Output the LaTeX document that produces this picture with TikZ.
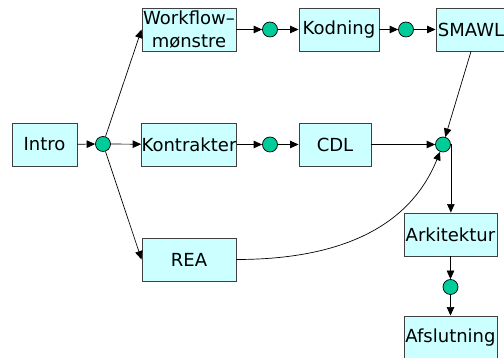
\documentclass[tikz,border=0pt]{standalone}
\usepackage{fontspec}
\setmainfont{DejaVu Sans}
\usetikzlibrary{arrows.meta}
\definecolor{boxfill}{HTML}{CCFFFF}
\definecolor{boxline}{HTML}{404040}
\definecolor{dotfill}{HTML}{00CC99}
\tikzset{
  topic/.style={draw=boxline, line width=0.9pt, fill=boxfill, inner sep=0pt,
    minimum height=43pt, align=center, text=black,
    font=\fontsize{18}{23}\selectfont},
  junction/.style={circle, draw=black, line width=0.7pt, fill=dotfill,
    minimum size=15pt, inner sep=0pt},
  flow/.style={draw=black, line width=0.7pt, -{Triangle[length=8.5pt,width=7.5pt]}},
}
\begin{document}
\begin{tikzpicture}[x=1pt,y=1pt]
  \useasboundingbox (0,0) rectangle (504,358);
  \clip (0,0) rectangle (504,358);

  % topics
  \node[topic, minimum width=65pt] (intro) at (44.5,213.5) {Intro};
  \node[topic, minimum width=94pt] (wf)    at (189,328.5) {Workflow–\\mønstre};
  \node[topic, minimum width=94pt] (kon)   at (189,213.5) {Kontrakter};
  \node[topic, minimum width=94pt] (rea)   at (189,98.5)  {REA};
  \node[topic, minimum width=80pt] (kod)   at (339,328.5) {Kodning};
  \node[topic, minimum width=72pt] (cdl)   at (335,213.5) {CDL};
  \node[topic, minimum width=70pt] (smawl) at (471,328.5) {SMAWL};
  \node[topic, minimum width=93pt] (ark)   at (450.5,123.5) {Arkitektur};
  \node[topic, minimum width=93pt] (afs)   at (450.5,20.5)  {Afslutning};

  % junctions
  \node[junction] (c1)    at (103,214) {};
  \node[junction] (c2)    at (270,328.5) {};
  \node[junction] (c3)    at (406,328.5) {};
  \node[junction] (c4)    at (270,213.5) {};
  \node[junction] (merge) at (443,213.5) {};
  \node[junction] (c5)    at (450.5,71) {};

  % connectors
  \draw[flow] (intro) -- (c1);
  \draw[flow] (c1) -- (wf.west);
  \draw[flow] (c1) -- (kon);
  \draw[flow] (c1) -- (rea.west);
  \draw[flow] (wf) -- (c2);
  \draw[flow] (c2) -- (kod);
  \draw[flow] (kod) -- (c3);
  \draw[flow] (c3) -- (smawl);
  \draw[flow] (kon) -- (c4);
  \draw[flow] (c4) -- (cdl);
  \draw[flow] (cdl) -- (merge);
  \draw[flow] (smawl.south) -- (merge);
  \draw[flow] (rea.east) to[out=0, in=-112] (merge);
  \draw[flow] (merge.east) -- (merge.east |- ark.north);
  \draw[flow] (ark) -- (c5);
  \draw[flow] (c5) -- (afs);
\end{tikzpicture}
\end{document}
